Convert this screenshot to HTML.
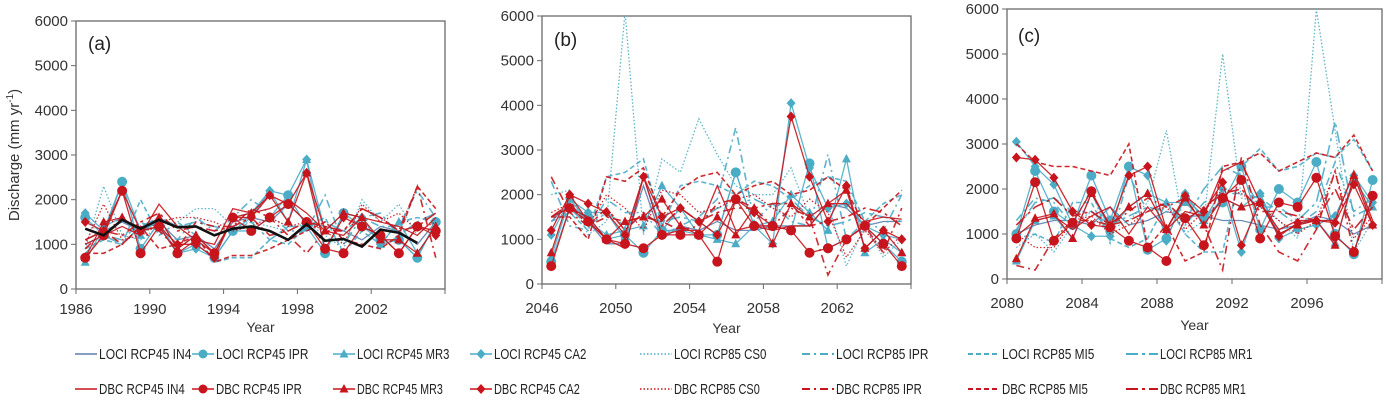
<!DOCTYPE html>
<html><head><meta charset="utf-8"><style>
body{margin:0;background:#fff;font-family:"Liberation Sans",sans-serif;}
svg{display:block}
</style></head><body>
<svg id="chart" width="1386" height="409" viewBox="0 0 1386 409"></svg>
<script>
const yTicks=[0,1000,2000,3000,4000,5000,6000];
const startYears=[1986,2046,2080];
const xTickLabelsA=["1986","1990","1994","1998","2002"];
const xTickLabelsB=["2046","2050","2054","2058","2062"];
const xTickLabelsC=["2080","2084","2088","2092","2096"];
const seriesNames=["LOCI RCP45 IN4","LOCI RCP45 IPR","LOCI RCP45 MR3","LOCI RCP45 CA2","LOCI RCP85 CS0","LOCI RCP85 IPR","LOCI RCP85 MI5","LOCI RCP85 MR1","DBC RCP45 IN4","DBC RCP45 IPR","DBC RCP45 MR3","DBC RCP45 CA2","DBC RCP85 CS0","DBC RCP85 IPR","DBC RCP85 MI5","DBC RCP85 MR1"];
const observedA=[1350,1200,1550,1350,1550,1380,1400,1200,1350,1400,1300,1100,1450,1080,1120,950,1330,1260,1030,null];

const a_LIN4=[1100,1300,1500,1300,1500,1100,1200,900,1500,1600,1500,1900,1500,1400,1300,1100,1400,1300,1000,1500];
const a_LIPR=[1600,1200,2400,900,1500,800,1000,700,1300,1300,1600,2100,1400,800,1700,1400,1100,1100,700,1500];
const a_LMR3=[600,1400,1600,1200,1600,900,1200,800,1600,1700,2200,1500,2900,1300,1700,1600,1000,1500,800,1400];
const a_LCA2=[1700,1300,2400,1300,1400,800,900,700,1300,1600,2200,2100,2900,800,1700,1600,1000,1100,700,1500];
const a_LCS0=[900,2300,1200,1100,1400,1500,1800,1800,1400,1500,1400,1300,1500,1200,900,2000,1500,1900,1200,1600];
const a_L85IPR=[800,1200,1100,1500,1300,1100,1600,1300,1600,2000,1700,1300,1300,2100,1000,1600,1400,1400,2200,1600];
const a_L85MI5=[900,1100,1000,2000,1200,1500,1200,600,700,700,1100,1000,1400,1600,800,1300,1000,1500,1600,1500];
const a_L85MR1=[1000,1200,1000,1400,1600,1400,1500,1400,1300,1500,1100,1400,1400,1500,1300,1600,1700,1200,1500,1700];
const a_DIN4=[1000,1200,1400,1200,1900,1400,1100,1000,1800,1700,1800,2000,1700,1300,1200,1600,1500,1400,1200,1600];
const a_DIPR=[700,1200,2200,800,1400,800,1100,800,1600,1300,1600,1900,1500,900,800,1400,1200,800,1400,1300];
const a_DMR3=[700,1500,1600,1300,1600,900,1200,800,1600,1700,2100,1500,2600,1300,1700,1600,1100,1100,800,1400];
const a_DCA2=[1500,1300,2200,1300,1400,1000,1000,700,1600,1600,2100,1900,2600,900,1600,1400,1200,800,1400,1200];
const a_DCS0=[1000,1900,1100,1200,1500,1600,1600,1500,1300,1400,1600,1400,1500,1300,1000,1900,1500,1700,1300,1500];
const a_D85IPR=[900,1300,1000,1400,1300,900,1500,1400,1400,1800,1600,1200,800,1300,1300,1800,1600,1300,2300,700];
const a_D85MI5=[800,800,1000,1400,900,1000,1200,600,750,750,900,1100,1300,1500,1100,1000,900,1200,2300,1800];
const a_D85MR1=[1100,1300,1200,1500,1700,1300,1400,1300,1400,1600,1200,1300,1500,1400,1300,1800,1600,1300,1400,1700];

const b_LIN4=[1400,1800,1400,900,900,2200,1000,1300,1200,1400,1200,1200,1300,1300,1300,1800,1700,1300,1400,1400];
const b_LIPR=[500,1700,1500,1000,1100,700,1200,1200,1100,1100,2500,1300,1300,1200,2700,800,1000,1300,900,500];
const b_LMR3=[600,1900,1400,1100,1200,1300,2200,1700,1100,1000,900,1300,1400,2000,1600,1200,2800,700,1000,700];
const b_LCA2=[1100,1900,1600,1600,1000,2400,1200,1700,1400,1100,2500,1300,900,4050,2600,1700,1800,1300,1100,1000];
const b_LCS0=[2000,2100,1100,1400,6100,1100,2800,2500,3700,2900,2200,2000,2000,2600,1500,1800,400,1300,600,1000];
const b_L85IPR=[2300,1300,1200,1900,1600,1600,1100,1300,1500,1900,3500,1400,1800,1400,1300,2900,1000,1400,1200,2000];
const b_L85MI5=[1400,1600,1200,2400,2500,2800,1300,2200,2300,2200,2000,2300,2200,1900,2200,2400,2300,1400,1800,2000];
const b_L85MR1=[1500,1700,1300,1600,1300,1500,1400,1500,1400,1700,1800,1900,1700,1900,1500,1300,1400,1600,1500,1400];
const b_DIN4=[1500,1700,1500,1000,800,2400,1100,1200,1200,2200,1200,1300,1200,1300,1300,1800,1800,1400,1500,1450];
const b_DIPR=[400,1700,1400,1000,900,800,1100,1100,1100,500,1900,1300,1300,1200,700,800,1000,1300,900,400];
const b_DMR3=[700,2000,1400,1000,1400,1500,1900,1300,1100,1500,1100,1700,900,1800,1500,1800,2100,800,1200,700];
const b_DCA2=[1200,2000,1800,1600,1100,2400,1500,1700,1400,1100,1900,1600,1300,3750,2400,1400,2200,800,1200,1000];
const b_DCS0=[1600,1800,1300,2000,1700,1200,2100,2000,1600,1700,1900,2000,1700,1500,1900,1600,600,1200,700,1100];
const b_D85IPR=[2400,1600,1300,1500,1400,1500,1400,1200,1300,1800,1900,1700,1300,1700,1500,200,1000,1300,700,1700];
const b_D85MI5=[1500,1500,1000,2400,2300,2600,1500,2100,2400,2500,2000,2200,2300,2000,2100,2400,2100,1300,1700,2100];
const b_D85MR1=[1500,1800,1300,1700,1200,1600,1300,1700,1400,1600,1700,1700,1800,1800,1300,1400,1500,1700,1600,1300];

const c_LIN4=[1000,1200,1300,1300,1200,1600,1200,1300,1500,1400,1400,1300,1300,1200,1100,1200,1400,1300,1000,1200];
const c_LIPR=[1000,2400,1500,1200,2300,1300,2500,650,900,1800,1400,1700,2500,1100,2000,1700,2600,1000,550,2200];
const c_LMR3=[400,1300,1400,900,1900,1100,1600,1900,1700,1700,1300,1800,1600,1900,1000,1200,1300,800,2200,1600];
const c_LCA2=[3050,2500,2100,1200,950,950,2500,2300,850,1900,1300,2000,600,1900,900,1100,1200,1400,2300,1700];
const c_LCS0=[700,1000,600,1200,1500,1100,1300,1700,3300,1000,1300,5000,1800,1700,1300,900,6000,3300,600,1300];
const c_L85IPR=[1300,1800,1700,1200,2000,800,2300,1500,1700,1200,1700,1900,1900,1800,1500,1200,1500,2600,1500,1800];
const c_L85MI5=[900,1000,800,1700,1700,900,700,900,1700,1000,600,600,2500,2900,2400,2500,2800,2700,3100,2400];
const c_L85MR1=[1100,1700,1800,1500,1500,1200,1400,1600,1500,1300,2000,2500,2300,1600,1600,1300,1700,3500,1400,1600];
const c_DIN4=[950,1300,1400,1100,1400,1600,1000,1600,1100,1500,1400,2400,2600,1700,1100,1300,1300,1300,2400,1300];
const c_DIPR=[900,2150,850,1250,1950,1150,850,700,400,1350,750,1800,2200,900,1700,1600,2250,950,600,1850];
const c_DMR3=[450,1350,1450,900,1900,1200,1600,1900,1100,1800,1200,1800,1600,1700,1000,1200,1300,750,2300,1200];
const c_DCA2=[2700,2650,2250,1500,1200,1150,2300,2500,1100,1850,1500,2150,750,1700,950,1250,1300,1250,2100,1200];
const c_DCS0=[1000,700,700,1300,1400,1000,1200,1500,1600,1100,1500,2000,1900,1600,1300,1000,1300,2400,900,1400];
const c_D85IPR=[300,200,900,1300,1300,1200,1500,1800,1600,1800,1200,200,2700,1200,600,400,1100,2400,600,1800];
const c_D85MI5=[3000,2600,2500,2500,2400,2300,3000,700,1200,400,600,2500,2600,2800,2400,2600,2800,2700,3200,2400];
const c_D85MR1=[1200,1600,1800,1400,1500,1200,1300,1500,1700,1300,1600,1900,2000,1500,1500,1400,1300,2000,1100,1600];

const NS="http://www.w3.org/2000/svg";
const svg=document.getElementById('chart');
function mk(tag,attrs,parent){const e=document.createElementNS(NS,tag);for(const k in attrs)e.setAttribute(k,attrs[k]);(parent||svg).appendChild(e);return e;}

const LB="#4bacc6", LB0="#5d7fae", RD="#c8141c";
const styles=[
 {c:LB0,d:"",m:null,w:1.3},{c:LB,d:"",m:"circle",w:1.3},{c:LB,d:"",m:"tri",w:1.3},{c:LB,d:"",m:"diamond",w:1.3},
 {c:LB,d:"1.5 2",m:null,w:1.3},{c:LB,d:"8 4 2 4",m:null,w:1.6},{c:LB,d:"5 3",m:null,w:1.6},{c:LB,d:"12 4 3 4",m:null,w:1.6},
 {c:RD,d:"",m:null,w:1.3},{c:RD,d:"",m:"circle",w:1.3},{c:RD,d:"",m:"tri",w:1.3},{c:RD,d:"",m:"diamond",w:1.3},
 {c:RD,d:"1.5 2",m:null,w:1.3},{c:RD,d:"8 4 2 4",m:null,w:1.6},{c:RD,d:"5 3",m:null,w:1.6},{c:RD,d:"12 4 3 4",m:null,w:1.6}
];
function drawMarker(g,type,x,y,color,r){
  let el;
  if(type==="circle") el=mk('circle',{cx:x,cy:y,r:r||5,fill:color},g);
  else if(type==="tri") el=mk('polygon',{points:`${x},${y-5} ${x-4.5},${y+3.5} ${x+4.5},${y+3.5}`,fill:color},g);
  else el=mk('polygon',{points:`${x},${y-5} ${x+4.5},${y} ${x},${y+5} ${x-4.5},${y}`,fill:color},g);
  return el;
}

const panels=[
 {id:'a',x0:76,x1:445,y0:289,y1:21,label:"(a)",lx:88,ly:50,ticks:xTickLabelsA,
  data:[a_LIN4,a_LIPR,a_LMR3,a_LCA2,a_LCS0,a_L85IPR,a_L85MI5,a_L85MR1,a_DIN4,a_DIPR,a_DMR3,a_DCA2,a_DCS0,a_D85IPR,a_D85MI5,a_D85MR1],obs:observedA,tickY:314,titleY:332},
 {id:'b',x0:542,x1:911,y0:284,y1:16,label:"(b)",lx:554,ly:46,ticks:xTickLabelsB,
  data:[b_LIN4,b_LIPR,b_LMR3,b_LCA2,b_LCS0,b_L85IPR,b_L85MI5,b_L85MR1,b_DIN4,b_DIPR,b_DMR3,b_DCA2,b_DCS0,b_D85IPR,b_D85MI5,b_D85MR1],tickY:313,titleY:333},
 {id:'c',x0:1007,x1:1382,y0:279,y1:9,label:"(c)",lx:1018,ly:42,ticks:xTickLabelsC,
  data:[c_LIN4,c_LIPR,c_LMR3,c_LCA2,c_LCS0,c_L85IPR,c_L85MI5,c_L85MR1,c_DIN4,c_DIPR,c_DMR3,c_DCA2,c_DCS0,c_D85IPR,c_D85MI5,c_D85MR1],tickY:308,titleY:330}
];

panels.forEach(p=>{
  const g=mk('g',{});
  
  
  const n=p.data[0].length;
  const cw=(p.x1-p.x0)/n;
  const xs=i=>p.x0+cw*(i+0.5);
  const ys=v=>p.y0-(v/6000)*(p.y0-p.y1);
  const clip=mk('clipPath',{id:'clip'+p.id},g);
  mk('rect',{x:p.x0,y:p.y1,width:p.x1-p.x0,height:p.y0-p.y1},clip);
  const frame=mk('rect',{x:p.x0,y:p.y1,width:p.x1-p.x0,height:p.y0-p.y1,fill:'#fff',stroke:'#6a6a6a','stroke-width':1.3},g);
  
  
  yTicks.forEach(t=>{
    const y=ys(t);
    mk('line',{x1:p.x0-5,x2:p.x0,y1:y,y2:y,stroke:'#6a6a6a'},g);
    const tx=mk('text',{x:p.x0-8,y:y+5,'text-anchor':'end','font-size':15,fill:'#333'},g);
    tx.textContent=t;
    
    
  });
  for(let i=0;i<=n;i+=4){
    const x=p.x0+cw*i;
    mk('line',{x1:x,x2:x,y1:p.y0,y2:p.y0+5,stroke:'#6a6a6a'},g);
  }
  mk('line',{x1:p.x1,x2:p.x1,y1:p.y0,y2:p.y0+5,stroke:'#6a6a6a'},g);
  p.ticks.forEach((lab,k)=>{
    const x=p.x0+cw*4*k;
    const tx=mk('text',{x:x,y:p.tickY,'text-anchor':'middle','font-size':15,fill:'#333'},g);
    tx.textContent=lab;
    
    
  });
  const yt=mk('text',{x:(p.x0+p.x1)/2,y:p.titleY,'text-anchor':'middle','font-size':14,fill:'#333'},g);
  yt.textContent="Year";
  
  
  const pl=mk('text',{x:p.lx,y:p.ly,'font-size':19,fill:'#222'},g);
  pl.textContent=p.label;
  
  
  const sg=mk('g',{'clip-path':'url(#clip'+p.id+')'},g);
  p.data.forEach((arr,si)=>{
    const st=styles[si];
    const pts=arr.map((v,i)=>xs(i)+','+ys(v)).join(' ');
    const line=mk('polyline',{points:pts,fill:'none',stroke:st.c,'stroke-width':st.w,'stroke-dasharray':st.d,opacity:0.9},sg);
    
    
    if(st.m){
      arr.forEach((v,i)=>{
        const m=drawMarker(sg,st.m,xs(i),ys(v),st.c);
        
        
      });
    }
  });
  if(p.obs){
    const pts=p.obs.map((v,i)=>v==null?null:xs(i)+','+ys(v)).filter(s=>s).join(' ');
    const ob=mk('polyline',{points:pts,fill:'none',stroke:'#111','stroke-width':2.6},sg);
    
    
  }
});

const ya=mk('text',{transform:'translate(19,155) rotate(-90)','text-anchor':'middle','font-size':15,fill:'#333'});
ya.innerHTML='Discharge (mm yr<tspan dy="-6" font-size="10">-1</tspan><tspan dy="6">)</tspan>';



const legX=[75,192,333,470,640,802,968,1126];
const legRows=[354,389];
seriesNames.forEach((name,si)=>{
  const st=styles[si];
  const row=si<8?0:1, col=si%8;
  const y=legRows[row], x=legX[col];
  const g=mk('g',{});
  
  
  const lw=col<4?22:32;
  mk('line',{x1:x,x2:x+lw,y1:y,y2:y,stroke:st.c,'stroke-width':st.w+0.3,'stroke-dasharray':st.d},g);
  if(st.m) drawMarker(g,st.m,x+lw/2,y,st.c,4.5);
  const t=mk('text',{x:x+lw+2,y:y+5,'font-size':15,fill:'#222',textLength:name.length*6.6,lengthAdjust:'spacingAndGlyphs'},g);
  t.textContent=name;
});
</script>
</body></html>
